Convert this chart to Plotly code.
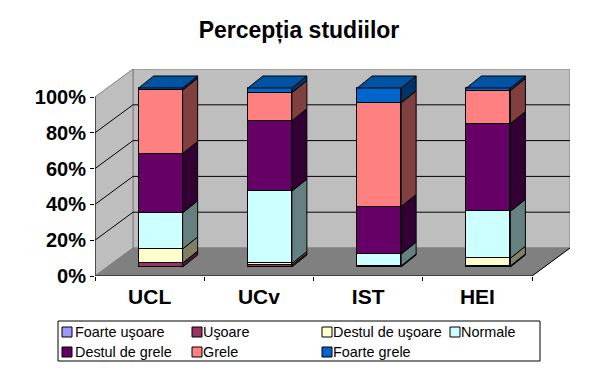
import plotly.graph_objects as go

categories = ["UCL", "UCv", "IST", "HEI"]
series_names = ["Foarte uşoare", "Uşoare", "Destul de uşoare", "Normale", "Destul de grele", "Grele", "Foarte grele"]
colors = ["#9999FF", "#993366", "#FFFFCC", "#CCFFFF", "#660066", "#FF8080", "#0066CC"]
side_colors = ["#4C4C80", "#4C1933", "#808066", "#668080", "#330033", "#804040", "#003366"]
foarte_usoare = [0, 0, 0, 0]
usoare = [2.2, 1.0, 0.6, 0.6]
destul_usoare = [7.9, 1.0, 0, 4.3]
normale = [20.2, 40.4, 6.6, 26.2]
destul_grele = [33.1, 39.3, 26.6, 49.0]
grele = [35.4, 15.7, 57.9, 18.5]
foarte_grele = [1.2, 2.6, 8.3, 1.4]
values = [foarte_usoare, usoare, destul_usoare, normale, destul_grele, grele, foarte_grele]
y_ticks = [0, 20, 40, 60, 80, 100]
y_labels = ["0%", "20%", "40%", "60%", "80%", "100%"]
legend_swatch_x = [62, 192, 322, 450, 62, 192, 322]
legend_text_x = [76, 204, 334, 462, 76, 204, 334]
legend_row_y = [332, 332, 332, 332, 352, 352, 352]

W, H = 601, 373
FONT = "Liberation Sans, Arial, sans-serif"
# pixels per axis unit (plot area is 475 x 207 px)
XU, YU = 109.25, 1.79
X0, X1 = -0.5, 3.5
XMAX = X0 + 475 / XU
YMAX = 207 / YU
WALL_DX, WALL_DY = 38 / XU, 28 / YU
BAR_DX, BAR_DY = 11 / XU, 9 / YU
SIDE_DX, SIDE_DY = 15 / XU, 12 / YU
BAR_W = 44 / XU
WALL = "#BFBEBF"
FLOOR = "#808080"
EDGE = "#808080"
M = dict(l=95, r=31, t=69, b=97)

fig = go.Figure()
shapes = []
annotations = []


def poly(pts, fill, line, width=1):
    path = "M" + " L".join(f"{x},{y}" for x, y in pts) + " Z"
    return dict(type="path", path=path, fillcolor=fill, line=dict(color=line, width=width), layer="below", xref="x", yref="y")


shapes.append(poly([(X0 + WALL_DX, WALL_DY), (X1 + WALL_DX, WALL_DY), (X1 + WALL_DX, 100 + WALL_DY), (X0 + WALL_DX, 100 + WALL_DY)], WALL, EDGE))
shapes.append(poly([(X0, 0), (X0 + WALL_DX, WALL_DY), (X0 + WALL_DX, 100 + WALL_DY), (X0, 100)], WALL, EDGE))
shapes.append(poly([(X0, 0), (X1, 0), (X1 + WALL_DX, WALL_DY), (X0 + WALL_DX, WALL_DY)], FLOOR, FLOOR))
for t in y_ticks[1:-1]:
    shapes.append(dict(type="line", xref="x", yref="y", layer="below", x0=X0, y0=t, x1=X0 + WALL_DX, y1=t + WALL_DY, line=dict(color="black", width=1)))
    shapes.append(dict(type="line", xref="x", yref="y", layer="below", x0=X0 + WALL_DX, y0=t + WALL_DY, x1=X1 + WALL_DX, y1=t + WALL_DY, line=dict(color="black", width=1)))
# axis lines
for a, b, c, d in [(X0, 0, X1, 0), (X0, 0, X0, 100), (X1, 0, X1 + WALL_DX, WALL_DY)]:
    shapes.append(dict(type="line", xref="x", yref="y", layer="below", x0=a, y0=b, x1=c, y1=d, line=dict(color="black", width=1)))

bases = [BAR_DY] * 4
for s, name in enumerate(series_names):
    vals = values[s]
    xs = [i + BAR_DX for i in range(4)]
    fig.add_trace(go.Bar(x=xs, y=vals, base=list(bases), width=BAR_W, name=name, showlegend=False,
                         marker=dict(color=colors[s], line=dict(color="black", width=1))))
    for i in range(4):
        if vals[i] <= 0:
            continue
        xr = xs[i] + BAR_W / 2
        b, t = bases[i], bases[i] + vals[i]
        fig.add_trace(go.Scatter(x=[xr, xr + SIDE_DX, xr + SIDE_DX, xr, xr], y=[b, b + SIDE_DY, t + SIDE_DY, t, b],
                                 mode="lines", fill="toself", fillcolor=side_colors[s], line=dict(color="black", width=1),
                                 showlegend=False, hoverinfo="skip"))
    bases = [bases[i] + vals[i] for i in range(4)]

for i in range(4):
    xl = i + BAR_DX - BAR_W / 2
    xr = xl + BAR_W
    t = bases[i]
    fig.add_trace(go.Scatter(x=[xl, xr, xr + SIDE_DX, xl + SIDE_DX, xl], y=[t, t, t + SIDE_DY, t + SIDE_DY, t],
                             mode="lines", fill="toself", fillcolor="#0052A3", line=dict(color="black", width=1),
                             showlegend=False, hoverinfo="skip"))


def lx(x):
    return (x - M["l"]) / 475


def ly(y):
    return (H - M["b"] - y) / 207


# Legend box, swatches and labels, placed in page pixels
shapes.append(dict(type="rect", xref="paper", yref="paper", x0=lx(58), x1=lx(540), y0=ly(321), y1=ly(361), fillcolor="white", line=dict(color="black", width=1), layer="above"))
for s, name in enumerate(series_names):
    yc = legend_row_y[s]
    x = legend_swatch_x[s]
    shapes.append(dict(type="rect", xref="paper", yref="paper", x0=lx(x), x1=lx(x + 10), y0=ly(yc - 5), y1=ly(yc + 5), fillcolor=colors[s], line=dict(color="black", width=1), layer="above"))
    annotations.append(dict(xref="paper", yref="paper", x=lx(legend_text_x[s]), y=ly(yc), xanchor="left", yanchor="middle", text=name, showarrow=False, borderpad=0, borderwidth=0,
                            xshift=-1, font=dict(size=14.4, color="black", family=FONT)))

fig.update_layout(
    width=W, height=H, autosize=False, barmode="overlay", bargap=0,
    margin=M,
    paper_bgcolor="white", plot_bgcolor="white",
    font=dict(family=FONT, color="black"),
    title=dict(text="<b>Percepția studiilor</b>", x=299 / W, xanchor="center", y=1 - 30 / H, yanchor="middle", font=dict(size=23, color="black")),
    xaxis=dict(range=[X0, XMAX], tickmode="array", tickvals=[0, 1, 2, 3], ticktext=categories, ticks="", showgrid=False, zeroline=False, showline=False,
               tickfont=dict(size=21, color="black", family=FONT, weight="bold"), ticklabelstandoff=6,
               minor=dict(ticks="outside", ticklen=4, tickcolor="black", tickwidth=1, tick0=-0.5, dtick=1, showgrid=False)),
    yaxis=dict(range=[0, YMAX], tickmode="array", tickvals=y_ticks, ticktext=y_labels, ticks="outside", ticklen=4, tickcolor="black", showgrid=False, zeroline=False, showline=False,
               tickfont=dict(size=20, color="black", family=FONT, weight="bold")),
    shapes=shapes,
    annotations=annotations,
    showlegend=False,
)
fig.write_html("out.html", config=dict(displayModeBar=False), post_script="document.body.style.margin='0';")
